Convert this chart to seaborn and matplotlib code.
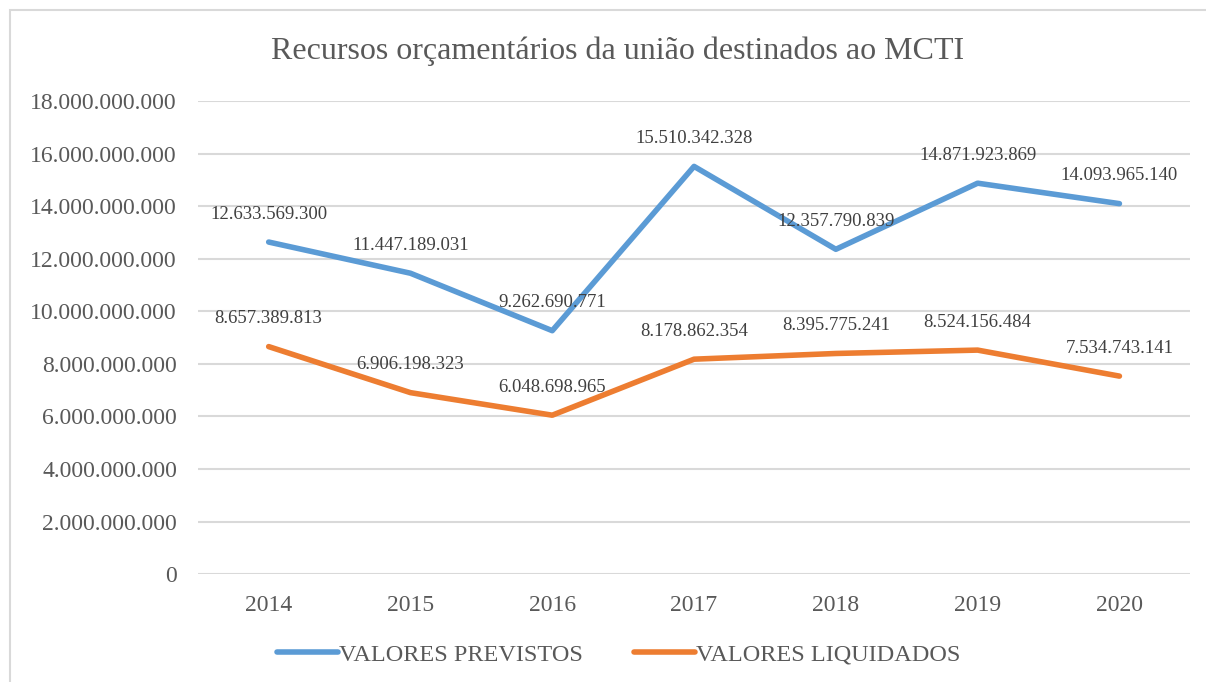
import pandas as pd
import matplotlib.pyplot as plt
import seaborn as sns
from matplotlib.patches import Rectangle
from matplotlib.ticker import FuncFormatter

anos = ['2014', '2015', '2016', '2017', '2018', '2019', '2020']
previstos = [12633569300, 11447189031, 9262690771, 15510342328, 12357790839, 14871923869, 14093965140]
liquidados = [8657389813, 6906198323, 6048698965, 8178862354, 8395775241, 8524156484, 7534743141]
series = ['VALORES PREVISTOS', 'VALORES LIQUIDADOS']
cores = ['#5B9BD5', '#ED7D31']

sns.set_theme(style="white")
plt.rcParams['font.family'] = ['Liberation Serif', 'DejaVu Serif']
cinza = '#595959'

df = pd.DataFrame({
    'ano': anos * 2,
    'valor': previstos + liquidados,
    'serie': [series[0]] * len(anos) + [series[1]] * len(anos),
})

fig = plt.figure(figsize=(12.06, 6.82), dpi=100)
ax = fig.add_axes([0.164, 0.158, 0.823, 0.694])

sns.lineplot(data=df, x='ano', y='valor', hue='serie', palette=cores,
             linewidth=4, sort=False, ax=ax, solid_capstyle='round')

def fmt(v, pos=None):
    return f"{int(round(v)):,}".replace(',', '.')

# rótulos de dados acima de cada ponto
for vals in (previstos, liquidados):
    for i, v in enumerate(vals):
        ax.annotate(fmt(v), (i, v), xytext=(0, 20), textcoords='offset points',
                    ha='center', va='center', fontsize=13.5, color='#404040')

ax.set_ylim(0, 18000000000)
ax.set_yticks(range(0, 18000000001, 2000000000))
ax.yaxis.set_major_formatter(FuncFormatter(fmt))
ax.set_xlim(-0.5, 6.5)
ax.grid(axis='y', color='#D9D9D9', linewidth=1.5)
ax.set_axisbelow(True)
for s in ax.spines.values():
    s.set_visible(False)
ax.tick_params(axis='both', length=0, labelsize=17, labelcolor=cinza)
ax.tick_params(axis='y', pad=15)
ax.tick_params(axis='x', pad=15)
ax.set_xlabel('')
ax.set_ylabel('')

fig.text(0.512, 0.925, 'Recursos orçamentários da união destinados ao MCTI',
         ha='center', va='center', fontsize=23, color=cinza)

handles, labels = ax.get_legend_handles_labels()
ax.legend(handles, labels, loc='center', bbox_to_anchor=(0.513, 0.04),
          bbox_transform=fig.transFigure, ncol=2, frameon=False,
          fontsize=17.5, labelcolor=cinza, handlelength=2.5, handletextpad=0.05,
          columnspacing=2.1)

fig.patches.append(Rectangle((10 / 1206, -0.05), 1.2, 1 - 10 / 682 + 0.05,
                             transform=fig.transFigure, fill=False,
                             edgecolor='#D9D9D9', linewidth=1.5))

fig.savefig('out.png', dpi=100)
